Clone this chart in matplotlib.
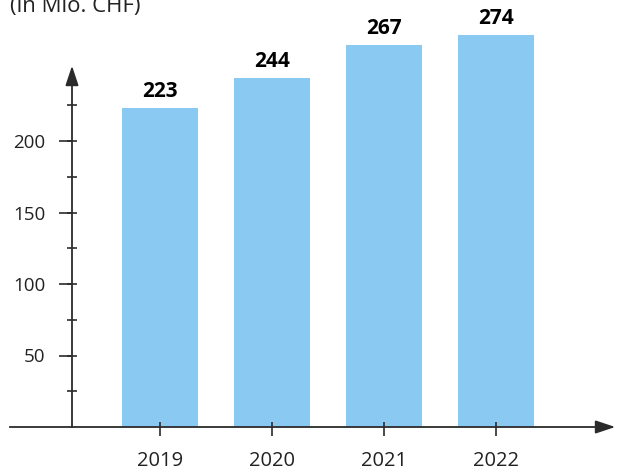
import matplotlib
matplotlib.use("Agg")
import matplotlib.pyplot as plt
from matplotlib.ticker import MultipleLocator

plt.rcParams['font.family'] = ['Open Sans', 'DejaVu Sans']

# data
years = ['2019', '2020', '2021', '2022']
values = [223, 244, 267, 274]
unit_label = '(in Mio. CHF)'

bar_color = '#89C9F2'
axis_color = '#2b2b2b'
text_color = '#222222'

fig = plt.figure(figsize=(6.19, 4.70), dpi=100)
ax = fig.add_axes([0, 0, 1, 1])

x = list(range(len(years)))
ax.bar(x, values, width=0.68, color=bar_color, zorder=1)

# value labels on top of bars
for xi, v in zip(x, values):
    ax.annotate(str(v), (xi, v), xytext=(0, 8), textcoords='offset points',
                ha='center', va='baseline', fontsize=15, fontweight='bold',
                color='black')

# pixel-ish mapping: x index 0 at px 160, step 112 px; y 0 at px 427, 1.43 px/unit
ax.set_xlim(-160 / 112, (619 - 160) / 112)
ax.set_ylim(-(470 - 427) / 1.43, 427 / 1.43)

y_axis_x = (72 - 160) / 112
y_top = (427 - 63) / 1.43
x_left = (10 - 160) / 112
x_right = (618 - 160) / 112

for s in ['top', 'right']:
    ax.spines[s].set_visible(False)
ax.spines['left'].set_position(('data', y_axis_x))
ax.spines['bottom'].set_position(('data', 0))
ax.spines['left'].set_bounds(0, y_top - 5)
ax.spines['bottom'].set_bounds(x_left, x_right - 0.05)
for s in ['left', 'bottom']:
    ax.spines[s].set_color(axis_color)
    ax.spines[s].set_linewidth(1.3)
    ax.spines[s].set_zorder(3)

# arrow heads
ax.annotate('', xy=(x_right, 0), xytext=(x_right - 0.2, 0),
            arrowprops=dict(arrowstyle='-|>,head_length=0.6,head_width=0.2',
                            mutation_scale=20, color=axis_color, lw=1.3),
            annotation_clip=False)
ax.annotate('', xy=(y_axis_x, y_top), xytext=(y_axis_x, y_top - 15),
            arrowprops=dict(arrowstyle='-|>,head_length=0.6,head_width=0.2',
                            mutation_scale=20, color=axis_color, lw=1.3),
            annotation_clip=False)

# y ticks
ax.yaxis.remove_overlapping_locs = False
ax.set_yticks([50, 100, 150, 200])
ax.set_yticks([25, 50, 75, 100, 125, 150, 175, 200, 225], minor=True)
ax.tick_params(axis='y', which='major', direction='out', length=9.4, width=1.2,
               color=axis_color, pad=10, labelsize=13.5, labelcolor=text_color)
ax.tick_params(axis='y', which='minor', direction='inout', length=7.2, width=1.2,
               color=axis_color)

# x ticks
ax.xaxis.remove_overlapping_locs = False
ax.set_xticks(x)
ax.set_xticklabels(years)
ax.set_xticks(x, minor=True)
ax.tick_params(axis='x', which='major', direction='out', length=6.5, width=1.2,
               color=axis_color, pad=11, labelsize=14.5, labelcolor=text_color)
ax.tick_params(axis='x', which='minor', direction='in', length=3.6, width=1.2,
               color=axis_color)

fig.text(10 / 619, 1 - 12 / 470, unit_label, ha='left', va='baseline',
         fontsize=16, color=text_color)

fig.savefig('out.png', dpi=100)
